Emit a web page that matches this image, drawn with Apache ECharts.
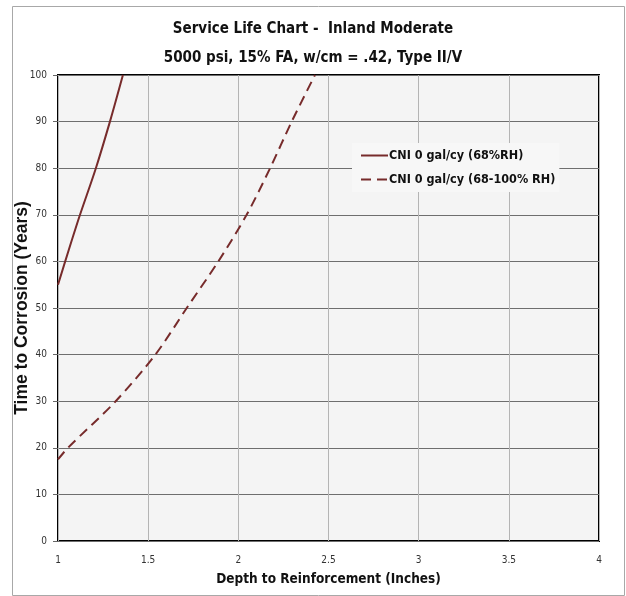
<!DOCTYPE html>
<html>
<head>
<meta charset="utf-8">
<script src="https://cdn.jsdelivr.net/npm/echarts@6/dist/echarts.min.js"></script>
<style>
  html, body { margin: 0; padding: 0; background: #fff; }
  #main { width: 626px; height: 596px; }
</style>
</head>
<body>
<div id="main"></div>
<script>
// values
var titleLines = ['Service Life Chart -  Inland Moderate', '5000 psi, 15% FA, w/cm = .42, Type II/V']
var seriesNames = ['CNI 0 gal/cy (68%RH)', 'CNI 0 gal/cy (68-100% RH)']

// solid line: 68% RH
var depthSolid = [1.0, 1.06, 1.122, 1.21, 1.288, 1.36]
var yearsSolid = [55, 62.5, 70, 80, 90, 100]

// dashed line: 68-100% RH
var depthDashed = [1.0, 1.055, 1.32, 1.54, 1.714, 1.889, 2.046, 2.176, 2.296, 2.425]
var yearsDashed = [17.5, 20, 30, 40, 50, 60, 70, 80, 90, 100]

var lineColor = '#772b2b'
var narrowFont = '"DejaVu Sans Condensed", "Liberation Sans Narrow", Roboto, sans-serif'

function pairs(xs, ys) {
  return xs.map(function (x, i) { return [x, ys[i]] })
}

var chart = echarts.init(document.getElementById('main'))
chart.setOption({
  animation: false,
  backgroundColor: '#fff',
  title: {
    text: titleLines.join('\n'),
    left: 'center',
    top: 10,
    textStyle: {
      fontFamily: narrowFont,
      fontSize: 15,
      fontWeight: 'bold',
      color: '#111',
      lineHeight: 29
    }
  },
  graphic: [{
    type: 'rect',
    left: 10,
    top: 4,
    shape: { width: 612, height: 589 },
    style: { fill: 'none', stroke: '#a8a8a8', lineWidth: 1 },
    silent: true,
    z: -1
  }],
  legend: {
    orient: 'vertical',
    left: 352,
    top: 143,
    backgroundColor: '#f7f7f7',
    padding: [6, 4, 6, 8],
    itemGap: 11,
    itemWidth: 27,
    itemHeight: 10,
    itemStyle: { opacity: 0 },
    data: [
      { name: seriesNames[0] },
      { name: seriesNames[1], lineStyle: { type: [10, 6] } }
    ],
    textStyle: {
      fontFamily: narrowFont,
      fontSize: 12.5,
      fontWeight: 'bold',
      color: '#111',
      padding: [0, 0, 0, -4]
    }
  },
  grid: {
    left: 58,
    right: 27,
    top: 75,
    bottom: 55,
    outerBoundsMode: 'none',
    show: true,
    backgroundColor: '#f4f4f4',
    borderColor: '#000',
    borderWidth: 2
  },
  xAxis: {
    type: 'value',
    min: 1,
    max: 4,
    interval: 0.5,
    name: 'Depth to Reinforcement (Inches)',
    nameLocation: 'middle',
    nameGap: 31,
    nameTextStyle: {
      fontFamily: narrowFont,
      fontSize: 13.5,
      fontWeight: 'bold',
      color: '#111'
    },
    axisLine: { show: false },
    axisTick: { show: false },
    axisLabel: {
      margin: 14,
      fontFamily: narrowFont,
      fontSize: 10,
      color: '#333'
    },
    splitLine: { show: true, lineStyle: { color: '#b4b4b4', width: 1 } }
  },
  yAxis: {
    type: 'value',
    min: 0,
    max: 100,
    interval: 10,
    name: 'Time to Corrosion (Years)',
    nameLocation: 'middle',
    nameMoveOverlap: false,
    nameGap: 27,
    nameTextStyle: {
      fontFamily: '"Liberation Sans", Arial, sans-serif',
      fontSize: 17.5,
      fontWeight: 'bold',
      color: '#111'
    },
    axisLine: { show: false },
    axisTick: { show: true, length: 5, lineStyle: { color: '#666' } },
    axisLabel: {
      margin: 11,
      fontFamily: narrowFont,
      fontSize: 10,
      color: '#333'
    },
    splitLine: { show: true, lineStyle: { color: '#6e6e6e', width: 1 } }
  },
  series: [
    {
      name: seriesNames[0],
      type: 'line',
      symbol: 'none',
      smooth: 0.3,
      data: pairs(depthSolid, yearsSolid),
      itemStyle: { color: lineColor },
      lineStyle: { color: lineColor, width: 2 }
    },
    {
      name: seriesNames[1],
      type: 'line',
      symbol: 'none',
      smooth: 0.3,
      data: pairs(depthDashed, yearsDashed),
      itemStyle: { color: lineColor },
      lineStyle: { color: lineColor, width: 2, type: [10, 6] }
    }
  ]
})
</script>
</body>
</html>
